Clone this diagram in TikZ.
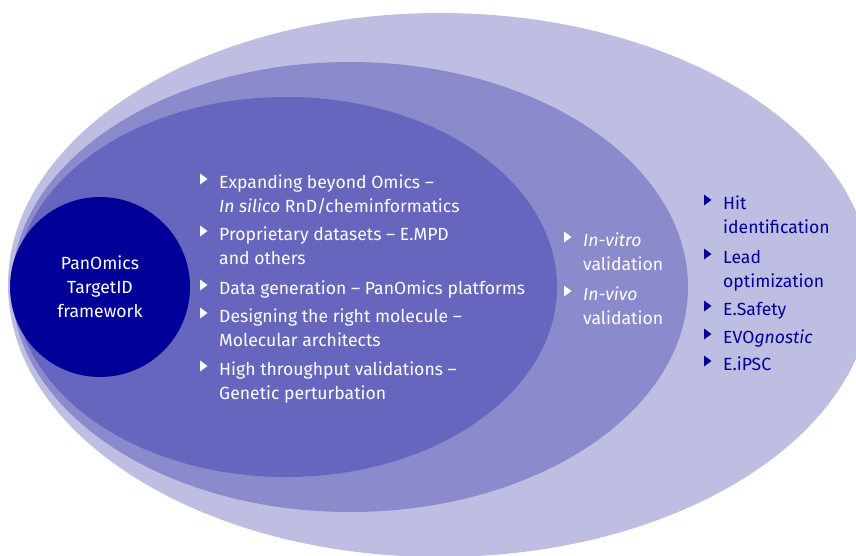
\documentclass[tikz,border=0pt]{standalone}
\usepackage{fontspec}
\setmainfont{Fira Sans}
\definecolor{ringA}{HTML}{BEBEE3}
\definecolor{ringB}{HTML}{8A8ACD}
\definecolor{ringC}{HTML}{6666BF}
\definecolor{navy}{HTML}{000099}
\tikzset{
  txt/.style={inner sep=0pt, anchor=base west, align=left, font=\fontsize{17.6}{24}\selectfont},
  wtxt/.style={txt, text=white},
  btxt/.style={txt, text=navy},
  coreshape/.style={circle, fill=navy, minimum size=180pt, inner sep=0pt, text=white, align=center, font=\fontsize{17.6}{24}\selectfont},
}
% #1 node, #2 colour, #3 height of the first line's baseline above the node's base
\newcommand{\bulletat}[3]{%
  \fill[#2] ([xshift=-19pt,yshift={9pt+#3}]#1.base west) ++(0,5.5) -- ++(7.5,-5.5) -- ++(-7.5,-5.5) -- cycle;}
\begin{document}
\begin{tikzpicture}[x=1pt,y=-1pt]
\useasboundingbox (0,0) rectangle (856,555);
\clip (0,0) rectangle (856,555);
\fill[ringA] (440,285) ellipse [x radius=432, y radius=272];
\fill[ringB] (350,287) ellipse [x radius=338, y radius=225];
\fill[ringC] (286,287) ellipse [x radius=271, y radius=190];
\node[coreshape] (core) at (100,287) {PanOmics\\TargetID\\framework};

\node[wtxt] (m1) at (219,212) {Expanding beyond Omics –\\\textit{In silico} RnD/cheminformatics};
\node[wtxt] (m2) at (219,264) {Proprietary datasets – E.MPD\\and others};
\node[wtxt] (m3) at (219,294) {Data generation – PanOmics platforms};
\node[wtxt] (m4) at (219,346) {Designing the right molecule –\\Molecular architects};
\node[wtxt] (m5) at (219,399) {High throughput validations –\\Genetic perturbation};

\node[wtxt] (v1) at (583,270) {\textit{In-vitro}\\validation};
\node[wtxt] (v2) at (583,324) {\textit{In-vivo}\\validation};

\node[btxt] (r1) at (723,233) {Hit\\identification};
\node[btxt] (r2) at (723,287) {Lead\\optimization};
\node[btxt] (r3) at (723,315) {E.Safety};
\node[btxt] (r4) at (723,343) {EVO\textit{gnostic}};
\node[btxt] (r5) at (723,370) {E.iPSC};

\foreach \n in {m1,m2,m4,m5,v1,v2} {\bulletat{\n}{white}{24pt}}
\bulletat{m3}{white}{0pt}
\foreach \n in {r1,r2} {\bulletat{\n}{navy}{24pt}}
\foreach \n in {r3,r4,r5} {\bulletat{\n}{navy}{0pt}}
\end{tikzpicture}
\end{document}
